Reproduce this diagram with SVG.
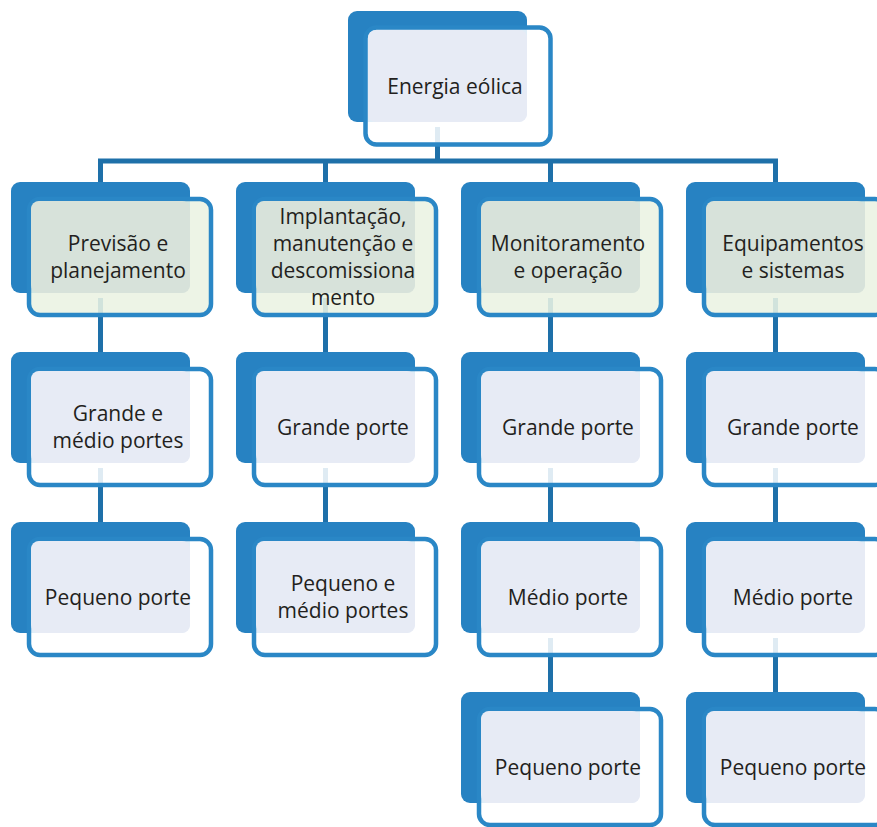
<svg xmlns="http://www.w3.org/2000/svg" width="877" height="827" viewBox="0 0 877 827">
<style>
.back{fill:#2782c2}
.front{fill:#ffffff;fill-opacity:0.86;stroke:#2a87c6;stroke-width:4.5}
.front.g{fill:#ebf2e2;fill-opacity:0.88}
.tr{fill:#e7ebf5}
.tr.g{fill:#d7e2da}
.conn{fill:none;stroke:#1e70a9;stroke-width:5}
text{font-family:"Open Sans","Noto Sans","Liberation Sans",sans-serif;font-size:21px;fill:#231f20;text-anchor:middle}
</style>
<rect width="877" height="827" fill="#ffffff"/>
<g id="connectors">
<path class="conn" d="M437.5 127 V161"/>
<path class="conn" d="M100.5 161 H775.5" stroke-linecap="square"/>
<path class="conn" d="M100.5 161 V182 M325.5 161 V182 M550.5 161 V182 M775.5 161 V182"/>
<path class="conn" d="M100.5 298 V352 M100.5 468 V522"/>
<path class="conn" d="M325.5 298 V352 M325.5 468 V522"/>
<path class="conn" d="M550.5 298 V352 M550.5 468 V522 M550.5 638 V692"/>
<path class="conn" d="M775.5 298 V352 M775.5 468 V522 M775.5 638 V692"/>
</g>
<g id="n0">
<rect class="back" x="348" y="11" width="179" height="111" rx="9"/>
<rect class="front" x="365.5" y="27.5" width="185" height="117" rx="11"/>
<rect class="tr" x="368" y="30" width="159" height="92" rx="8"/>
<text x="455" y="93.5">Energia eólica</text>
</g>
<g id="n1">
<rect class="back" x="11" y="182" width="179" height="111" rx="9"/>
<rect class="front g" x="29" y="199" width="182" height="116" rx="11"/>
<rect class="tr g" x="31" y="201" width="159" height="92" rx="8"/>
<text x="118" y="251">Previsão e</text>
<text x="118" y="278">planejamento</text>
</g>
<g id="n2">
<rect class="back" x="236" y="182" width="179" height="111" rx="9"/>
<rect class="front g" x="254" y="199" width="182" height="116" rx="11"/>
<rect class="tr g" x="256" y="201" width="159" height="92" rx="8"/>
<text x="343" y="224">Implantação,</text>
<text x="343" y="251">manutenção e</text>
<text x="343" y="278">descomissiona</text>
<text x="343" y="305">mento</text>
</g>
<g id="n3">
<rect class="back" x="461" y="182" width="179" height="111" rx="9"/>
<rect class="front g" x="479" y="199" width="182" height="116" rx="11"/>
<rect class="tr g" x="481" y="201" width="159" height="92" rx="8"/>
<text x="568" y="251">Monitoramento</text>
<text x="568" y="278">e operação</text>
</g>
<g id="n4">
<rect class="back" x="686" y="182" width="179" height="111" rx="9"/>
<rect class="front g" x="704" y="199" width="182" height="116" rx="11"/>
<rect class="tr g" x="706" y="201" width="159" height="92" rx="8"/>
<text x="793" y="251">Equipamentos</text>
<text x="793" y="278">e sistemas</text>
</g>
<g id="n5">
<rect class="back" x="11" y="352" width="179" height="111" rx="9"/>
<rect class="front" x="29" y="369" width="182" height="116" rx="11"/>
<rect class="tr" x="31" y="371" width="159" height="92" rx="8"/>
<text x="118" y="421">Grande e</text>
<text x="118" y="448">médio portes</text>
</g>
<g id="n6">
<rect class="back" x="11" y="522" width="179" height="111" rx="9"/>
<rect class="front" x="29" y="539" width="182" height="116" rx="11"/>
<rect class="tr" x="31" y="541" width="159" height="92" rx="8"/>
<text x="118" y="604.5">Pequeno porte</text>
</g>
<g id="n7">
<rect class="back" x="236" y="352" width="179" height="111" rx="9"/>
<rect class="front" x="254" y="369" width="182" height="116" rx="11"/>
<rect class="tr" x="256" y="371" width="159" height="92" rx="8"/>
<text x="343" y="434.5">Grande porte</text>
</g>
<g id="n8">
<rect class="back" x="236" y="522" width="179" height="111" rx="9"/>
<rect class="front" x="254" y="539" width="182" height="116" rx="11"/>
<rect class="tr" x="256" y="541" width="159" height="92" rx="8"/>
<text x="343" y="591">Pequeno e</text>
<text x="343" y="618">médio portes</text>
</g>
<g id="n9">
<rect class="back" x="461" y="352" width="179" height="111" rx="9"/>
<rect class="front" x="479" y="369" width="182" height="116" rx="11"/>
<rect class="tr" x="481" y="371" width="159" height="92" rx="8"/>
<text x="568" y="434.5">Grande porte</text>
</g>
<g id="n10">
<rect class="back" x="461" y="522" width="179" height="111" rx="9"/>
<rect class="front" x="479" y="539" width="182" height="116" rx="11"/>
<rect class="tr" x="481" y="541" width="159" height="92" rx="8"/>
<text x="568" y="604.5">Médio porte</text>
</g>
<g id="n11">
<rect class="back" x="461" y="692" width="179" height="111" rx="9"/>
<rect class="front" x="479" y="709" width="182" height="116" rx="11"/>
<rect class="tr" x="481" y="711" width="159" height="92" rx="8"/>
<text x="568" y="774.5">Pequeno porte</text>
</g>
<g id="n12">
<rect class="back" x="686" y="352" width="179" height="111" rx="9"/>
<rect class="front" x="704" y="369" width="182" height="116" rx="11"/>
<rect class="tr" x="706" y="371" width="159" height="92" rx="8"/>
<text x="793" y="434.5">Grande porte</text>
</g>
<g id="n13">
<rect class="back" x="686" y="522" width="179" height="111" rx="9"/>
<rect class="front" x="704" y="539" width="182" height="116" rx="11"/>
<rect class="tr" x="706" y="541" width="159" height="92" rx="8"/>
<text x="793" y="604.5">Médio porte</text>
</g>
<g id="n14">
<rect class="back" x="686" y="692" width="179" height="111" rx="9"/>
<rect class="front" x="704" y="709" width="182" height="116" rx="11"/>
<rect class="tr" x="706" y="711" width="159" height="92" rx="8"/>
<text x="793" y="774.5">Pequeno porte</text>
</g>
</svg>
